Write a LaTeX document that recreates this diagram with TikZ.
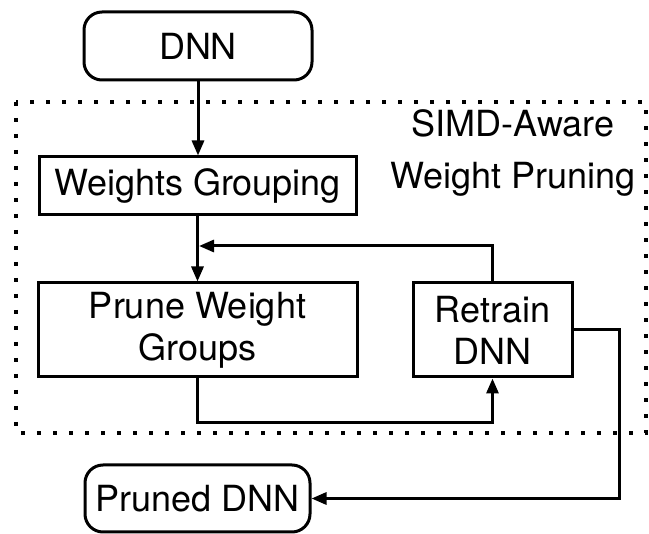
\documentclass[tikz,border=0pt]{standalone}
\usepackage{fontspec}
\setmainfont{TeX Gyre Heros}
\usepackage{tikz}
\usetikzlibrary{arrows.meta,positioning}

\begin{document}
\begin{tikzpicture}[x=0.5pt, y=-0.5pt, line width=1.5pt,
        font=\fontsize{18}{21}\selectfont]
        \tikzset{block/.style={draw, rectangle, align=center, inner sep=0pt}}
        \tikzset{term/.style={block, rounded corners=9pt}}
        \tikzset{arr/.style={-{Triangle[length=7.5pt, width=6pt]}}}
        \useasboundingbox (0,0) rectangle (649,534);

        % Pruning stage frame
        \draw [line width=1.6pt, dash pattern=on 2pt off 6pt] (16,102) rectangle (646,433);
        \node [align=center, font=\fontsize{18}{26}\selectfont] (stage) at (513,153) {SIMD-Aware\\Weight Pruning};

        % Blocks
        \node [term, minimum width=114pt, minimum height=34pt] (dnn) at (198,46) {DNN};
        \node [block, minimum width=158.5pt, minimum height=29pt] (group) at (197.5,186) {Weights Grouping};
        \node [block, minimum width=159.5pt, minimum height=47pt] (prune) at (197.5,330) {Prune Weight\\Groups};
        \node [block, minimum width=79.5pt, minimum height=47pt] (retrain) at (492.5,330) {Retrain\\DNN};
        \node [term, minimum width=112.5pt, minimum height=33.5pt] (pruned) at (197.5,498.5) {Pruned DNN};
        \coordinate (join) at (199,246);

        % Connections
        \draw [arr] (dnn.south) -- (dnn.south |- group.north);
        \draw [arr] (group.south) -- (group.south |- prune.north);
        \draw [arr] (retrain.north) |- (join);
        \draw [arr] (prune.south) -- ++(0,44) -| (retrain.south);
        \draw [arr] (retrain.east) -- ++(46,0) |- (pruned.east);
    \end{tikzpicture}
\end{document}
